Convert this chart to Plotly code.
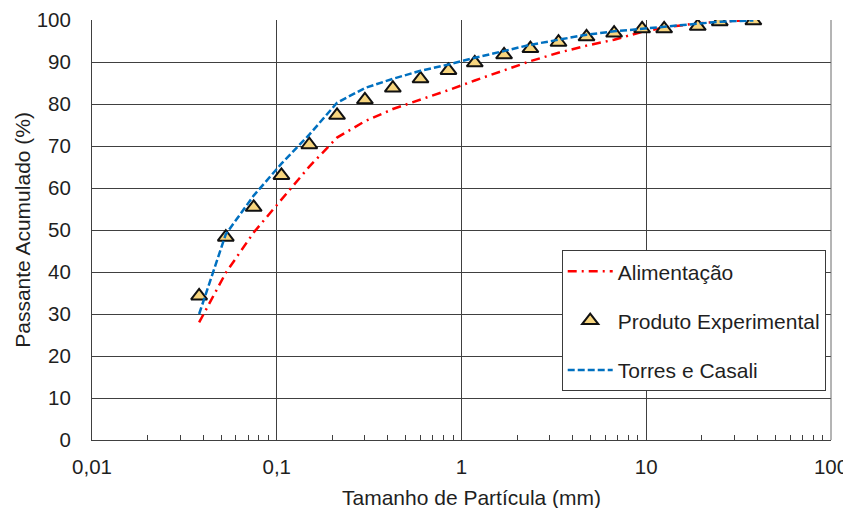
import plotly.graph_objects as go

# ---- data ----
sizes_mm = [0.038, 0.053, 0.075, 0.106, 0.15, 0.212, 0.3, 0.425, 0.6, 0.85,
            1.18, 1.7, 2.36, 3.35, 4.75, 6.7, 9.5, 12.5, 19, 25, 38]
alimentacao = [28.0, 39.8, 49.4, 57.3, 65.1, 72.0, 75.9, 78.8, 81.0, 83.3,
               85.6, 88.1, 90.2, 92.2, 93.9, 95.3, 97.2, 98.2, 99.2, 99.6, 100.0]
produto = [34.3, 48.3, 55.4, 63.0, 70.3, 77.3, 81.0, 83.8, 86.0, 88.0,
           89.8, 91.7, 93.2, 94.7, 96.0, 96.9, 97.9, 97.9, 98.5, 99.6, 99.8]
torres = [30.0, 49.0, 58.2, 65.8, 72.7, 80.3, 83.8, 86.0, 87.9, 89.4,
          91.0, 92.7, 94.1, 95.3, 96.5, 97.3, 97.9, 98.5, 99.1, 99.6, 99.9]

x_tickvals = [0.01, 0.1, 1, 10, 100]
x_ticktext = ["0,01", "0,1", "1", "10", "100"]
y_tickvals = list(range(0, 101, 10))

FONT = "Liberation Sans, Arial, sans-serif"
TXT = "#1f1f1f"
GRID = "#404040"

fig = go.Figure()
fig.add_trace(go.Scatter(
    x=sizes_mm, y=alimentacao, mode="lines", name="Alimentação",
    legendgroup="a",
    line=dict(color="#FF0000", width=2.5, dash="9px,5px,2px,5px")))
fig.add_trace(go.Scatter(
    x=sizes_mm, y=produto, mode="markers", name="Produto Experimental",
    legendgroup="b",
    marker=dict(symbol="triangle-up", size=14, color="#F7D57E",
                line=dict(color="#111111", width=2))))
fig.add_trace(go.Scatter(
    x=sizes_mm, y=torres, mode="lines", name="Torres e Casali",
    legendgroup="c",
    line=dict(color="#0070C0", width=2.5, dash="7px,3px")))

minor_vals = [m * 10 ** e for e in range(-2, 2) for m in range(2, 10)]

# The page body has an 8px default margin, so the figure is sized to fit the window.
fig.update_layout(
    width=843, height=500,
    margin=dict(l=84, r=20, t=12, b=67.6),
    paper_bgcolor="white", plot_bgcolor="white",
    font=dict(family=FONT, size=20, color=TXT),
    showlegend=True,
    legend=dict(
        x=0.6356, y=0.452, xanchor="left", yanchor="top",
        bgcolor="white", bordercolor="#3a3a3a", borderwidth=1,
        font=dict(family=FONT, size=21, color=TXT),
        tracegroupgap=19, itemwidth=45,
    ),
    xaxis=dict(
        type="log", range=[-2, 2], automargin=False,
        tickmode="array", tickvals=x_tickvals, ticktext=x_ticktext,
        ticks="", showgrid=True, gridcolor=GRID, gridwidth=1,
        showline=True, linecolor="#404040", linewidth=1, mirror=False,
        zeroline=False, ticklabelstandoff=8,
        tickfont=dict(family=FONT, size=20.5, color=TXT),
        minor=dict(tickmode="array", tickvals=minor_vals, ticks="inside",
                   ticklen=5, tickcolor="#404040", tickwidth=1, showgrid=False),
    ),
    yaxis=dict(
        range=[0, 100], tickmode="array", tickvals=y_tickvals, automargin=False,
        ticks="", showgrid=True, gridcolor=GRID, gridwidth=1,
        showline=True, linecolor="#404040", linewidth=1,
        zeroline=False, ticklabelstandoff=16,
        tickfont=dict(family=FONT, size=20.5, color=TXT),
    ),
    shapes=[dict(type="line", xref="paper", yref="paper", x0=1, x1=1, y0=0, y1=1,
                 line=dict(color="#6a6a6a", width=1))],
    annotations=[
        dict(text="Tamanho de Partícula (mm)", xref="paper", yref="paper",
             x=0.514, y=-0.138, xanchor="center", yanchor="middle",
             showarrow=False, font=dict(family=FONT, size=21, color=TXT)),
        dict(text="Passante Acumulado (%)", xref="paper", yref="paper",
             x=-0.095, y=0.5, xanchor="center", yanchor="middle", textangle=-90,
             showarrow=False, font=dict(family=FONT, size=21, color=TXT)),
    ],
)

fig.write_html("out.html")
